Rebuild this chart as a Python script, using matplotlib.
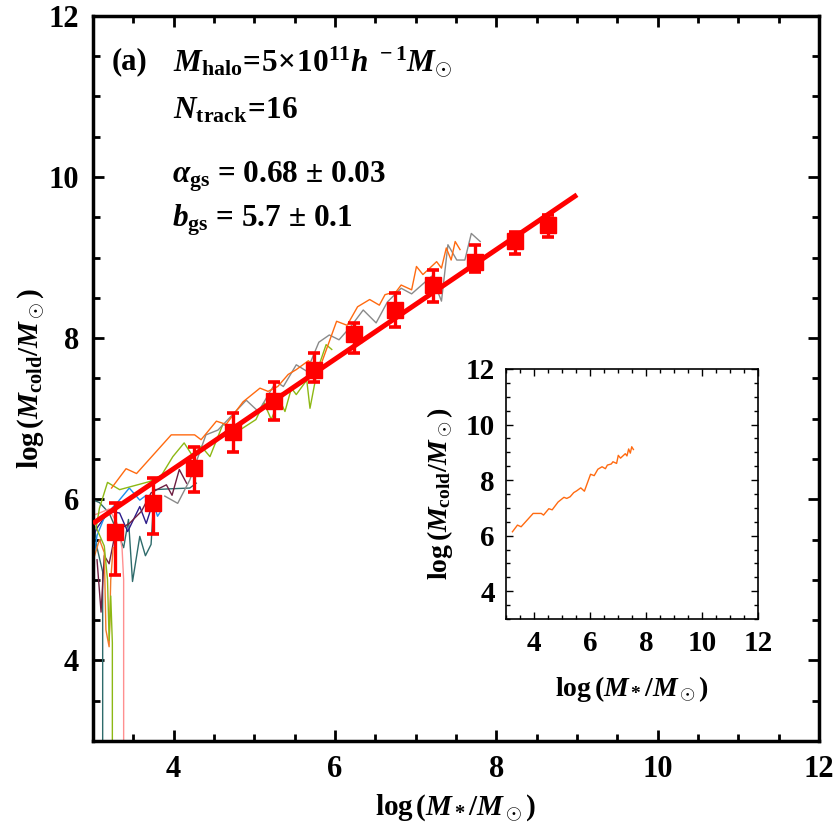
import matplotlib
matplotlib.use("Agg")
import matplotlib.pyplot as plt
import numpy as np
from matplotlib.ticker import MultipleLocator

plt.rcParams['font.family'] = ['Liberation Serif', 'DejaVu Serif']
plt.rcParams['font.weight'] = 'bold'
plt.rcParams['axes.labelweight'] = 'bold'
plt.rcParams['mathtext.fontset'] = 'custom'
plt.rcParams['mathtext.rm'] = 'Liberation Serif:bold'
plt.rcParams['mathtext.it'] = 'Liberation Serif:italic:bold'
plt.rcParams['mathtext.bf'] = 'Liberation Serif:bold'

# ---- binned data with error bars ----
bin_x = [3.27, 3.75, 4.25, 4.74, 5.25, 5.74, 6.24, 6.74, 7.22, 7.73, 8.23, 8.64]
bin_y = [5.60, 5.96, 6.39, 6.84, 7.22, 7.61, 8.05, 8.35, 8.66, 8.95, 9.21, 9.41]
bin_top = [5.96, 6.26, 6.65, 7.07, 7.45, 7.82, 8.19, 8.56, 8.85, 9.16, 9.32, 9.53]
bin_bot = [5.06, 5.57, 6.09, 6.59, 6.99, 7.45, 7.82, 8.14, 8.45, 8.82, 9.05, 9.25]

# ---- fit ----
alpha_gs = 0.68
b_gs = 5.7
fit_x = [3.0, 9.0]

# ---- tick labels ----
tick_vals = [4, 6, 8, 10, 12]
tick_labels = ['4', '6', '8', '10', '12']

# ---- individual tracks ----
orange_x = [3.23, 3.41, 3.54, 3.97, 4.26, 4.34, 4.53, 4.65, 4.86, 5.07, 5.17, 5.29, 5.42, 5.52,
            5.67, 5.80, 6.02, 6.15, 6.28, 6.43, 6.55, 6.62, 6.76, 6.82, 6.95, 7.01, 7.09, 7.26,
            7.32, 7.38, 7.44, 7.49, 7.55]
orange_y = [6.14, 6.38, 6.32, 6.80, 6.80, 6.74, 6.97, 6.93, 7.21, 7.38, 7.34, 7.40, 7.55, 7.61,
            7.72, 7.60, 8.21, 8.16, 8.39, 8.48, 8.41, 8.54, 8.58, 8.66, 8.60, 8.89, 8.79, 8.95,
            8.87, 9.12, 8.97, 9.20, 9.10]

gray_x = [3.89, 4.05, 4.20, 4.40, 4.55, 4.90, 5.05, 5.27, 5.36, 5.52, 5.65, 5.80, 5.93, 6.05,
          6.20, 6.35, 6.51, 6.65, 6.82, 6.95, 7.20, 7.32, 7.40, 7.51, 7.61, 7.69, 7.80]
gray_y = [6.04, 5.95, 6.24, 6.80, 6.86, 7.23, 7.09, 7.46, 7.40, 7.67, 7.59, 7.95, 8.04, 7.98,
          8.15, 8.35, 8.19, 8.45, 8.62, 8.55, 8.77, 8.46, 9.16, 8.97, 8.97, 9.30, 9.20]

green_x = [3.24, 3.24, 3.22, 3.20, 3.18, 3.14, 3.04, 3.08, 3.18, 3.33, 3.70, 3.85, 3.99, 4.13,
           4.24, 4.34, 4.45, 4.61, 4.82, 5.02, 5.12, 5.21, 5.31, 5.38, 5.46, 5.52, 5.65, 5.69,
           5.78, 5.89, 5.96]
green_y = [2.5, 4.22, 4.80, 4.25, 5.00, 5.42, 5.65, 5.89, 6.21, 6.12, 6.22, 6.30, 6.53, 6.70,
           6.53, 6.66, 6.53, 6.93, 6.86, 6.99, 7.20, 6.99, 7.24, 7.09, 7.38, 7.30, 7.48, 7.13,
           7.60, 7.92, 7.86]

teal_x = [3.12, 3.12, 3.05, 2.98, 3.08, 3.20, 3.30, 3.38, 3.44, 3.49, 3.58, 3.65, 3.72, 3.76,
          3.95, 4.20, 4.28]
teal_y = [2.5, 5.10, 5.40, 6.00, 5.96, 5.83, 5.60, 5.40, 5.75, 4.98, 5.54, 5.30, 5.44, 6.12,
          6.13, 6.14, 6.20]

blue_x = [3.00, 3.05, 3.15, 3.31, 3.45, 3.58, 3.66, 3.75, 3.80, 3.84]
blue_y = [5.21, 5.55, 5.80, 5.97, 6.14, 5.99, 6.05, 5.95, 5.79, 5.85]

navy_x = [3.00, 3.01, 2.98, 3.06, 3.20, 3.33, 3.43, 3.58, 3.66, 3.74, 3.82]
navy_y = [4.80, 5.20, 5.50, 5.66, 5.85, 5.83, 5.60, 5.91, 5.70, 5.95, 5.85]

maroon_x = [3.05, 3.10, 3.14, 3.20, 3.28, 3.45, 3.60, 3.72, 3.83, 3.91, 3.98, 4.07, 4.16]
maroon_y = [5.25, 4.60, 5.30, 5.20, 5.60, 5.70, 5.85, 6.08, 6.14, 6.18, 6.05, 6.37, 6.20]

pink_x = [2.97, 3.08, 3.20, 3.30, 3.36, 3.38, 3.38]
pink_y = [5.79, 5.83, 5.88, 5.70, 5.40, 5.00, 2.50]

orange2_x = [3.02, 3.08, 3.14, 3.16, 3.20, 3.22, 3.25]
orange2_y = [5.30, 5.50, 5.34, 4.38, 4.17, 5.00, 5.40]

tracks = [
    (teal_x, teal_y, '#2E6B6B'),
    (navy_x, navy_y, '#2C1C8A'),
    (blue_x, blue_y, '#1E8FF0'),
    (maroon_x, maroon_y, '#6E1E42'),
    (pink_x, pink_y, '#FF9090'),
    (orange2_x, orange2_y, '#F07A28'),
    (green_x, green_y, '#8DB814'),
    (gray_x, gray_y, '#8A8A8A'),
    (orange_x, orange_y, '#FF6A10'),
]

FONT = 'Liberation Serif'


def style_axes(a, lab_size, major_len, minor_len, tick_w, spine_w, pad):
    a.set_xlim(3, 12)
    a.set_ylim(3, 12)
    a.set_xticks(tick_vals, labels=tick_labels, fontfamily=FONT, fontweight='bold',
                 fontsize=lab_size)
    a.set_yticks(tick_vals, labels=tick_labels, fontfamily=FONT, fontweight='bold',
                 fontsize=lab_size)
    a.xaxis.set_minor_locator(MultipleLocator(0.5))
    a.yaxis.set_minor_locator(MultipleLocator(0.5))
    a.tick_params(which='both', direction='in', top=True, right=True, width=tick_w)
    a.tick_params(which='major', length=major_len, pad=pad)
    a.tick_params(which='minor', length=minor_len)
    for s in a.spines.values():
        s.set_linewidth(spine_w)


fig = plt.figure(figsize=(8.34, 8.34), dpi=100)
ax = fig.add_axes([0.1115, 0.1115, 0.8705, 0.8694])

for tx, ty, c in tracks:
    ax.plot(tx, ty, color=c, lw=1.0, zorder=2)

fx = np.array(fit_x)
ax.plot(fx, alpha_gs * (fx - 3.0) + b_gs, color='#FF0000', lw=3.6, zorder=3,
        solid_capstyle='butt')

by = np.array(bin_y)
yerr = [by - np.array(bin_bot), np.array(bin_top) - by]
ax.errorbar(bin_x, bin_y, yerr=yerr, fmt='s', color='#FF0000', mec='#FF0000', ms=12,
            elinewidth=2.4, capsize=4.5, capthick=2.6, zorder=4)

style_axes(ax, 22, 8, 5, 2, 2.5, 10)

ax.set_xlabel(r'log$\,(M_*/M_\odot)$', fontsize=21, labelpad=6)
ax.set_ylabel(r'log$\,(M_{\rm cold}/M_\odot)$', fontsize=21, labelpad=2)

ax.text(0.026, 0.926, '(a)', transform=ax.transAxes, fontsize=22, va='baseline', ha='left')
ax.text(0.110, 0.923, r'$M_{\rm halo}\!=\!5\!\times\!10^{11}h^{\ -1}M_{\odot}$',
        transform=ax.transAxes, fontsize=22.5, va='baseline', ha='left')
ax.text(0.110, 0.859, r'$N_{\rm track}\!=\!16$', transform=ax.transAxes, fontsize=22.5,
        va='baseline', ha='left')
ax.text(0.109, 0.770, r'$\alpha_{\rm gs}$ = 0.68 $\pm$ 0.03', transform=ax.transAxes,
        fontsize=22.5, va='baseline', ha='left')
ax.text(0.109, 0.710, r'$b_{\rm gs}$ = 5.7 $\pm$ 0.1', transform=ax.transAxes,
        fontsize=22.5, va='baseline', ha='left')

# ---- inset ----
ins = fig.add_axes([0.6067, 0.2578, 0.3022, 0.2998])
ins.plot(orange_x, orange_y, color='#FF6A10', lw=1.0)
style_axes(ins, 21, 5, 3, 1, 1.2, 8)
ins.set_xlabel(r'log$\,(M_*/M_\odot)$', fontsize=20, labelpad=12)
ins.set_ylabel(r'log$\,(M_{\rm cold}/M_\odot)$', fontsize=20, labelpad=8)

fig.savefig('out.png', dpi=100)
